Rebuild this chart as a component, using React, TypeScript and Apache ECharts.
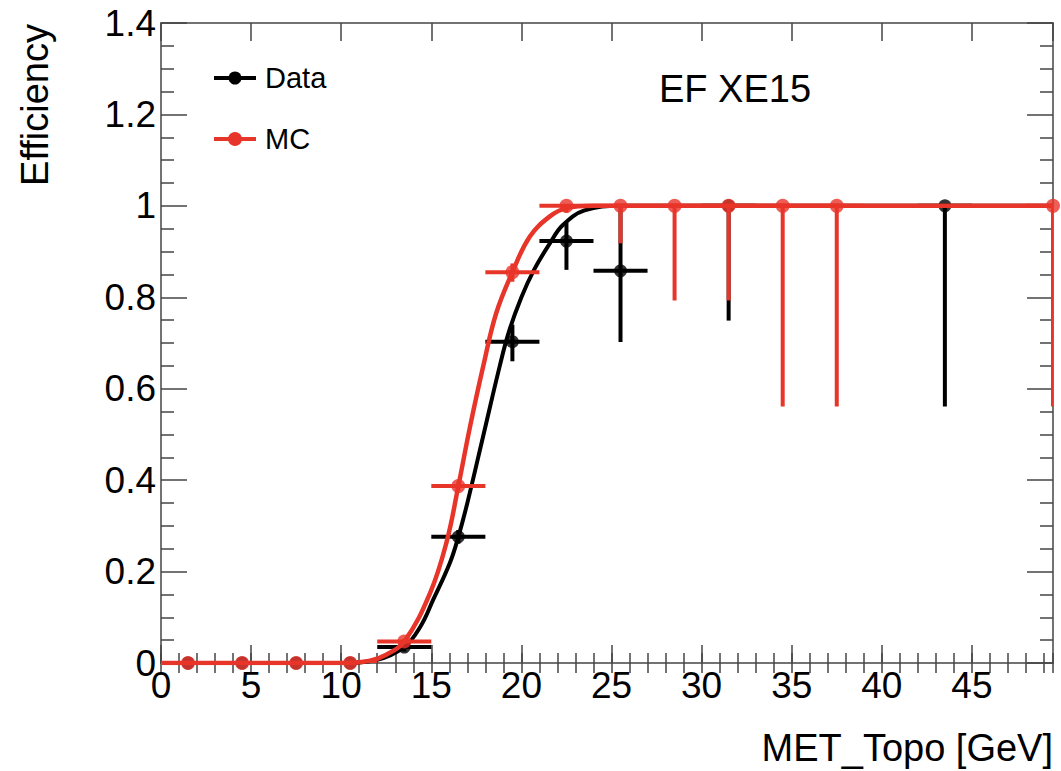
import React, { useEffect, useRef } from "react";
import * as echarts from "echarts";

// Bin centres (GeV) and efficiencies
const dataX = [1.5, 4.5, 7.5, 10.5, 13.5, 16.5, 19.5, 22.5, 25.5, 31.5, 43.5];
const dataY = [0, 0, 0, 0, 0.035, 0.276, 0.703, 0.923, 0.858, 1.0, 1.0];
const dataYLow = [0, 0, 0, 0, 0.025, 0.261, 0.66, 0.86, 0.702, 0.749, 0.561];
const dataYHigh = [0, 0, 0, 0, 0.045, 0.291, 0.74, 0.963, 0.995, 1.0, 1.0];

const mcX = [1.5, 4.5, 7.5, 10.5, 13.5, 16.5, 19.5, 22.5, 25.5, 28.5, 31.5, 34.5, 37.5, 49.5];
const mcY = [0, 0, 0, 0, 0.047, 0.387, 0.855, 1.0, 1.0, 1.0, 1.0, 1.0, 1.0, 1.0];
const mcYLow = [0, 0, 0, 0, 0.042, 0.377, 0.834, 0.985, 0.918, 0.793, 0.793, 0.561, 0.561, 0.561];
const mcYHigh = [0, 0, 0, 0, 0.052, 0.397, 0.874, 1.0, 1.0, 1.0, 1.0, 1.0, 1.0, 1.0];

const binHalfWidth = 1.5;

// Fit curves
const dataFitX = [0, 10, 12, 13.5, 14.4, 15.1, 16.04, 16.5, 17.0, 17.9, 18.8, 19.3, 20.0, 20.7, 21.58, 22.3, 23.5, 25.5, 49.5];
const dataFitY = [0, 0, 0.007, 0.035, 0.08, 0.138, 0.22, 0.276, 0.35, 0.5, 0.65, 0.724, 0.8, 0.86, 0.918, 0.958, 0.99, 1.0, 1.0];

const mcFitX = [0, 10, 11.6, 12.5, 13.5, 14.93, 15.85, 16.5, 17.15, 17.88, 18.6, 19.5, 20.47, 21.58, 22.5, 24, 49.5];
const mcFitY = [0, 0, 0.005, 0.018, 0.047, 0.153, 0.265, 0.387, 0.517, 0.649, 0.765, 0.855, 0.933, 0.977, 0.995, 1.0, 1.0];

const X_MIN = 0;
const X_MAX = 49.5;
const Y_MIN = 0;
const Y_MAX = 1.4;

const FONT = "'Liberation Sans', Arial, Helvetica, sans-serif";
const BLACK = "#000000";
const RED = "#e8352a";
const FRAME = "#444444";

function errRows(xs: number[], ys: number[], lo: number[], hi: number[]) {
  return xs.map((x, i) => [x, ys[i], x - binHalfWidth, x + binHalfWidth, lo[i], hi[i]]);
}

function errorSeries(rows: number[][], color: string, z: number) {
  return {
    type: "custom",
    z,
    clip: true,
    encode: { x: 0, y: 1 },
    data: rows,
    renderItem: (params: any, api: any) => {
      const x = api.value(0);
      const y = api.value(1);
      const pL = api.coord([api.value(2), y]);
      const pR = api.coord([api.value(3), y]);
      const pB = api.coord([x, api.value(4)]);
      const pT = api.coord([x, api.value(5)]);
      const style = { stroke: color, lineWidth: 4 };
      return {
        type: "group",
        children: [
          { type: "line", shape: { x1: pL[0], y1: pL[1], x2: pR[0], y2: pR[1] }, style },
          { type: "line", shape: { x1: pB[0], y1: pB[1], x2: pT[0], y2: pT[1] }, style },
        ],
      };
    },
  };
}

export default function App() {
  const ref = useRef<HTMLDivElement>(null);
  useEffect(() => {
    if (!ref.current) return;
    const chart = echarts.init(ref.current, null, { renderer: "svg" });
    const lineStyle = { color: FRAME, width: 1.5 };
    const baseX = { type: "value", min: X_MIN, max: X_MAX, splitLine: { show: false } };
    const baseY = { type: "value", min: Y_MIN, max: Y_MAX, interval: 0.2, splitLine: { show: false } };
    chart.setOption({
      animation: false,
      backgroundColor: "#ffffff",
      grid: { left: 161, right: 8, top: 23, bottom: 108, containLabel: false },
      xAxis: [
        {
          ...baseX,
          position: "bottom",
          interval: 5,
          axisLine: { show: true, onZero: false, lineStyle },
          axisTick: { show: true, inside: true, length: 18, lineStyle },
          axisLabel: { show: true, fontSize: 37, color: "#000", fontFamily: FONT, margin: 4, showMaxLabel: false },
        },
        {
          ...baseX,
          position: "bottom",
          interval: 1,
          axisLine: { show: false },
          axisTick: { show: true, inside: true, length: 10, lineStyle },
          axisLabel: { show: false },
        },
        {
          ...baseX,
          position: "top",
          interval: 5,
          axisLine: { show: true, onZero: false, lineStyle },
          axisTick: { show: true, inside: true, length: 18, lineStyle },
          axisLabel: { show: false },
        },
        {
          ...baseX,
          position: "top",
          interval: 1,
          axisLine: { show: false },
          axisTick: { show: true, inside: true, length: 10, lineStyle },
          axisLabel: { show: false },
        },
      ],
      yAxis: [
        {
          ...baseY,
          position: "left",
          axisLine: { show: true, onZero: false, lineStyle },
          axisTick: { show: true, inside: true, length: 26, lineStyle },
          minorTick: { show: true, splitNumber: 4, length: 13, lineStyle },
          axisLabel: { show: true, fontSize: 37, color: "#000", fontFamily: FONT, margin: 5 },
        },
        {
          ...baseY,
          position: "right",
          axisLine: { show: true, onZero: false, lineStyle },
          axisTick: { show: true, inside: true, length: 26, lineStyle },
          minorTick: { show: true, splitNumber: 4, length: 13, lineStyle },
          axisLabel: { show: false },
        },
      ],
      series: [
        errorSeries(errRows(dataX, dataY, dataYLow, dataYHigh), BLACK, 2),
        {
          type: "line",
          z: 2,
          data: dataFitX.map((x, i) => [x, dataFitY[i]]),
          smooth: 0.4,
          showSymbol: false,
          lineStyle: { color: BLACK, width: 4 },
          silent: true,
        },
        {
          type: "scatter",
          z: 2,
          data: dataX.map((x, i) => [x, dataY[i]]),
          symbol: "circle",
          symbolSize: 13,
          itemStyle: { color: BLACK },
        },
        errorSeries(errRows(mcX, mcY, mcYLow, mcYHigh), RED, 3),
        {
          type: "line",
          z: 3,
          data: mcFitX.map((x, i) => [x, mcFitY[i]]),
          smooth: 0.4,
          showSymbol: false,
          lineStyle: { color: RED, width: 4.5 },
          silent: true,
        },
        {
          type: "scatter",
          z: 3,
          data: mcX.map((x, i) => [x, mcY[i]]),
          symbol: "circle",
          symbolSize: 14,
          itemStyle: { color: RED },
        },
      ],
      graphic: [
        {
          type: "text",
          x: 1053,
          y: 748,
          style: { text: "MET_Topo [GeV]", font: `38px ${FONT}`, fill: "#000", align: "right", verticalAlign: "middle" },
        },
        {
          type: "text",
          x: 35,
          y: 24,
          rotation: Math.PI / 2,
          style: { text: "Efficiency", font: `38px ${FONT}`, fill: "#000", align: "right", verticalAlign: "middle" },
        },
        {
          type: "text",
          x: 659,
          y: 89,
          style: { text: "EF XE15", font: `38px ${FONT}`, fill: "#000", align: "left", verticalAlign: "middle" },
        },
        { type: "line", shape: { x1: 214, y1: 78, x2: 256, y2: 78 }, style: { stroke: BLACK, lineWidth: 4 } },
        { type: "circle", shape: { cx: 235, cy: 78, r: 6.5 }, style: { fill: BLACK } },
        {
          type: "text",
          x: 265,
          y: 78,
          style: { text: "Data", font: `29px ${FONT}`, fill: "#000", align: "left", verticalAlign: "middle" },
        },
        { type: "line", shape: { x1: 214, y1: 139, x2: 256, y2: 139 }, style: { stroke: RED, lineWidth: 4 } },
        { type: "circle", shape: { cx: 235, cy: 139, r: 7 }, style: { fill: RED } },
        {
          type: "text",
          x: 265,
          y: 139,
          style: { text: "MC", font: `29px ${FONT}`, fill: "#000", align: "left", verticalAlign: "middle" },
        },
      ],
    });
    return () => chart.dispose();
  }, []);
  return (
    <div
      ref={ref}
      style={{ position: "fixed", left: 0, top: 0, width: 1061, height: 771, background: "#fff" }}
    />
  );
}
